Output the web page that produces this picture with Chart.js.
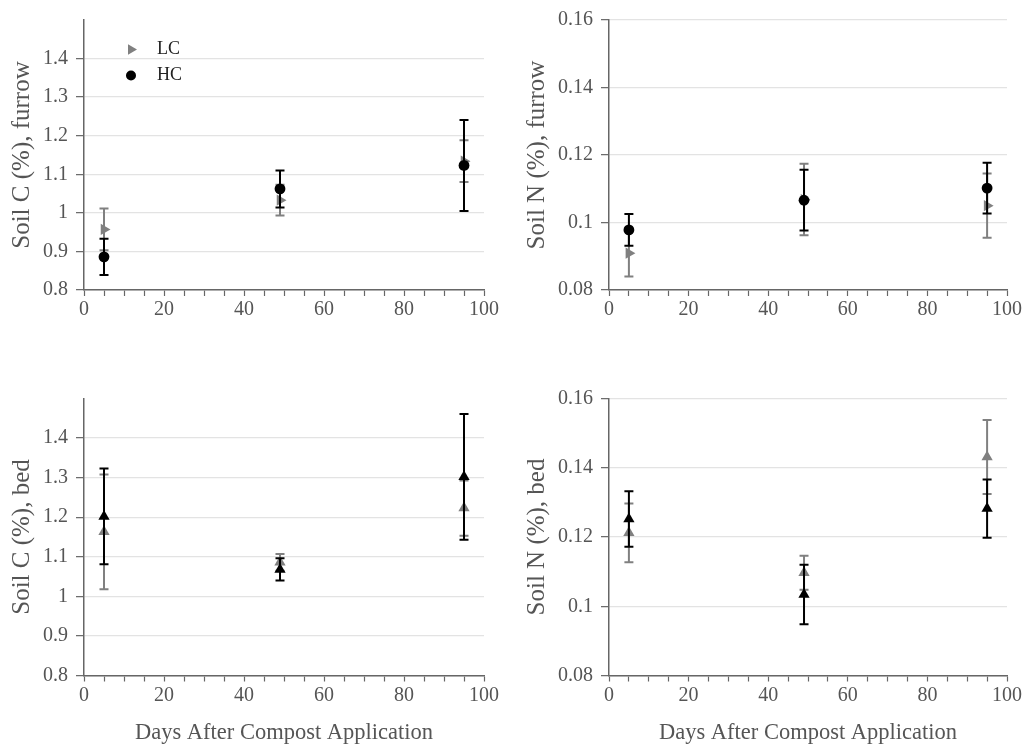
<!DOCTYPE html>
<html>
<head>
<meta charset="utf-8">
<script src="https://cdn.jsdelivr.net/npm/chart.js@4.4.1/dist/chart.umd.min.js"></script>
<style>
  body { margin: 0; background: #fff; }
  #wrap { position: relative; width: 1031px; height: 754px; }
  canvas { position: absolute; }
</style>
</head>
<body>
<div id="wrap">
  <canvas id="cFurrow" width="515" height="377" style="left:0;top:0"></canvas>
  <canvas id="nFurrow" width="516" height="377" style="left:515px;top:0"></canvas>
  <canvas id="cBed" width="515" height="377" style="left:0;top:377px"></canvas>
  <canvas id="nBed" width="516" height="377" style="left:515px;top:377px"></canvas>
</div>
<script>
// sampling days
const days = [5, 49, 95];

// soil C, furrow
const lcCFurrow = [0.957, 1.033, 1.134];
const lcCFurrowErr = [0.054, 0.040, 0.054];
const hcCFurrow = [0.886, 1.062, 1.123];
const hcCFurrowErr = [0.047, 0.048, 0.118];

// soil N, furrow
const lcNFurrow = [0.0909, 0.1068, 0.1050];
const lcNFurrowErr = [0.0069, 0.0106, 0.0095];
const hcNFurrow = [0.0978, 0.1066, 0.1102];
const hcNFurrowErr = [0.0047, 0.0090, 0.0075];

// soil C, bed
const lcCBed = [1.163, 1.086, 1.223];
const lcCBedErr = [0.145, 0.021, 0.070];
const hcCBed = [1.202, 1.068, 1.302];
const hcCBedErr = [0.121, 0.028, 0.159];

// soil N, bed
const lcNBed = [0.1212, 0.1097, 0.1431];
const lcNBedErr = [0.0085, 0.0049, 0.0107];
const hcNBed = [0.1252, 0.1034, 0.1282];
const hcNBedErr = [0.0080, 0.0086, 0.0084];

const xTicks = [0, 20, 40, 60, 80, 100];
const seriesNames = ["LC", "HC"];

const SERIF = "'Liberation Serif', 'Times New Roman', serif";
Chart.defaults.font.family = SERIF;
Chart.defaults.color = "#555";

// error bars, drawn under each dataset's points
const errorBars = {
  id: "errorBars",
  beforeDatasetDraw(chart, args) {
    const ds = chart.data.datasets[args.index];
    if (!ds.errors) return;
    const xs = chart.scales.x;
    const ys = chart.scales.y;
    const ctx = chart.ctx;
    ctx.save();
    ctx.strokeStyle = ds.borderColor;
    ctx.lineWidth = 2;
    ds.data.forEach((p, i) => {
      const x = xs.getPixelForValue(p.x);
      const top = ys.getPixelForValue(p.y + ds.errors[i]);
      const bot = ys.getPixelForValue(p.y - ds.errors[i]);
      ctx.beginPath();
      ctx.moveTo(x, top);
      ctx.lineTo(x, bot);
      ctx.moveTo(x - 4.5, top);
      ctx.lineTo(x + 4.5, top);
      ctx.moveTo(x - 4.5, bot);
      ctx.lineTo(x + 4.5, bot);
      ctx.stroke();
    });
    ctx.restore();
  },
};

// small legend sitting in the upper left corner of the plot
const cornerLegend = {
  id: "cornerLegend",
  afterDatasetsDraw(chart, args, opts) {
    if (!opts.show) return;
    const { ctx, chartArea } = chart;
    ctx.save();
    chart.data.datasets.forEach((ds, i) => {
      const x = chartArea.left + 47;
      const y = chartArea.top + 29.5 + i * 26;
      ctx.fillStyle = ds.backgroundColor;
      ctx.strokeStyle = ds.backgroundColor;
      Chart.helpers.drawPoint(ctx, {
        pointStyle: ds.pointStyle,
        rotation: ds.rotation || 0,
        radius: ds.pointStyle === "circle" ? 5 : 6,
        borderWidth: 0,
      }, x, y);
      ctx.fillStyle = "#222";
      ctx.font = "18px " + SERIF;
      ctx.textBaseline = "middle";
      ctx.fillText(ds.label, x + 26, y);
    });
    ctx.restore();
  },
};

function pts(vals) {
  return days.map((d, i) => ({ x: d, y: vals[i] }));
}

function makePanel(id, cfg) {
  const lcStyle = cfg.bed ? { pointStyle: "triangle", rotation: 0 } : { pointStyle: "triangle", rotation: 90 };
  const hcStyle = cfg.bed ? { pointStyle: "triangle", rotation: 0 } : { pointStyle: "circle", rotation: 0 };

  new Chart(document.getElementById(id), {
    type: "scatter",
    data: {
      datasets: [
        {
          label: seriesNames[0],
          data: pts(cfg.lc),
          errors: cfg.lcErr,
          backgroundColor: "#808080",
          borderColor: "#808080",
          pointStyle: lcStyle.pointStyle,
          rotation: lcStyle.rotation,
          pointRadius: 6.5,
          borderWidth: 0,
          order: 1,
        },
        {
          label: seriesNames[1],
          data: pts(cfg.hc),
          errors: cfg.hcErr,
          backgroundColor: "#000",
          borderColor: "#000",
          pointStyle: hcStyle.pointStyle,
          rotation: hcStyle.rotation,
          pointRadius: cfg.bed ? 6.5 : 5.4,
          borderWidth: 0,
          order: 0,
        },
      ],
    },
    options: {
      responsive: false,
      devicePixelRatio: 1,
      animation: false,
      events: [],
      layout: {
        padding: { left: 0, top: cfg.top, right: cfg.right, bottom: 0 },
      },
      scales: {
        x: {
          type: "linear",
          min: 0,
          max: 100,
          afterFit: (s) => { s.height = cfg.xHeight; },
          border: { color: "#666", width: 1.5 },
          grid: {
            drawOnChartArea: false,
            tickLength: 6,
            tickColor: "#666",
            tickWidth: 1.2,
          },
          ticks: {
            stepSize: 5,
            autoSkip: false,
            maxRotation: 0,
            padding: 2,
            color: "#555",
            font: { size: 20 },
            callback: (v) => (xTicks.includes(v) ? String(v) : ""),
          },
          title: {
            display: cfg.bed,
            text: "Days After Compost Application",
            color: "#555",
            font: { size: 22.5 },
            padding: { top: 0, bottom: 7 },
          },
        },
        y: {
          min: cfg.yMin,
          max: cfg.yMax,
          afterFit: (s) => { s.width = cfg.yWidth; },
          border: { color: "#666", width: 1.5 },
          grid: {
            color: "#e3e3e3",
            lineWidth: 1.3,
            tickLength: 8,
            tickColor: "#666",
            tickWidth: 1.2,
          },
          ticks: {
            stepSize: cfg.yStep,
            padding: 8,
            color: "#555",
            font: { size: 20 },
            callback: (v) => {
              if (cfg.hideTop && Math.abs(v - cfg.yMax) < 1e-9) return null;
              return String(Number(v.toFixed(3)));
            },
          },
          title: {
            display: true,
            text: cfg.yTitle,
            color: "#555",
            font: { size: 25 },
            padding: { top: 7, bottom: 0 },
          },
        },
      },
      plugins: {
        legend: { display: false },
        tooltip: { enabled: false },
        cornerLegend: { show: !!cfg.legend },
      },
    },
    plugins: [errorBars, cornerLegend],
  });
}

makePanel("cFurrow", {
  lc: lcCFurrow, lcErr: lcCFurrowErr, hc: hcCFurrow, hcErr: hcCFurrowErr,
  yMin: 0.8, yMax: 1.5, yStep: 0.1, hideTop: true,
  yTitle: "Soil C (%), furrow", legend: true, bed: false,
  top: 12.5, right: 31, yWidth: 84, xHeight: 87,
});

makePanel("nFurrow", {
  lc: lcNFurrow, lcErr: lcNFurrowErr, hc: hcNFurrow, hcErr: hcNFurrowErr,
  yMin: 0.08, yMax: 0.16, yStep: 0.02, hideTop: false,
  yTitle: "Soil N (%), furrow", legend: false, bed: false,
  top: 12.5, right: 24, yWidth: 94, xHeight: 87,
});

makePanel("cBed", {
  lc: lcCBed, lcErr: lcCBedErr, hc: hcCBed, hcErr: hcCBedErr,
  yMin: 0.8, yMax: 1.5, yStep: 0.1, hideTop: true,
  yTitle: "Soil C (%), bed", legend: false, bed: true,
  top: 21.5, right: 31, yWidth: 84, xHeight: 78.5,
});

makePanel("nBed", {
  lc: lcNBed, lcErr: lcNBedErr, hc: hcNBed, hcErr: hcNBedErr,
  yMin: 0.08, yMax: 0.16, yStep: 0.02, hideTop: false,
  yTitle: "Soil N (%), bed", legend: false, bed: true,
  top: 21.5, right: 24, yWidth: 94, xHeight: 78.5,
});
</script>
</body>
</html>
